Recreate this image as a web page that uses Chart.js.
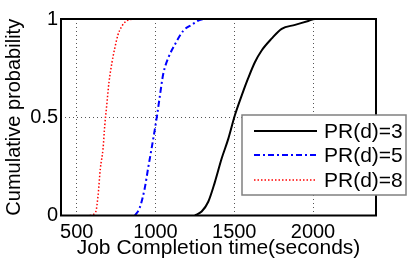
<!DOCTYPE html>
<html>
<head>
<meta charset="utf-8">
<script src="https://cdn.jsdelivr.net/npm/chart.js@4/dist/chart.umd.min.js"></script>
<style>
  html, body { margin: 0; padding: 0; background: #fff; }
  #wrap { width: 415px; height: 263px; }
</style>
</head>
<body>
<div id="wrap"><canvas id="cdfCanvas" width="415" height="263"></canvas></div>
<script>
// series values (job completion time in seconds, cumulative probability)
const pr3Time = [1250, 1293, 1335, 1377, 1420, 1462, 1504, 1547, 1589, 1631, 1674, 1737, 1801, 1886, 1970, 2013, 2400];
const pr3Prob = [0, 0.02, 0.07, 0.17, 0.29, 0.39, 0.51, 0.61, 0.70, 0.78, 0.84, 0.90, 0.95, 0.97, 0.99, 1, 1];

const pr5Time = [869, 900, 932, 953, 975, 996, 1010, 1028, 1049, 1080, 1123, 1176, 1229, 1293, 1364];
const pr5Prob = [0, 0.04, 0.14, 0.24, 0.34, 0.44, 0.51, 0.61, 0.72, 0.80, 0.87, 0.94, 0.97, 0.998, 1];

const pr8Time = [583, 621, 635, 650, 667, 678, 689, 705, 724, 741, 762, 784, 815, 858];
const pr8Prob = [0, 0.02, 0.10, 0.24, 0.34, 0.46, 0.55, 0.68, 0.78, 0.85, 0.92, 0.96, 0.99, 1];

const seriesNames = ['PR(d)=3', 'PR(d)=5', 'PR(d)=8'];
const xTicks = [500, 1000, 1500, 2000];
const yTicks = [0, 0.5, 1];

const FONT = '"Liberation Sans", Arial, sans-serif';

function toPoints(xs, ys) {
  return xs.map((x, i) => ({ x: x, y: ys[i] }));
}

// matlab style legend box, sits partly outside the axes
const legendBox = {
  id: 'legendBox',
  afterDraw(chart) {
    const ctx = chart.ctx;
    ctx.save();
    ctx.fillStyle = '#fff';
    ctx.fillRect(242, 115, 164, 80);
    ctx.strokeStyle = '#808080';
    ctx.lineWidth = 1.5;
    ctx.strokeRect(242, 115, 164, 80);
    const rows = [131, 155, 180];
    chart.data.datasets.forEach((ds, i) => {
      ctx.beginPath();
      ctx.setLineDash(ds.borderDash || []);
      ctx.strokeStyle = ds.borderColor;
      ctx.lineWidth = ds.borderWidth;
      ctx.moveTo(254, rows[i]);
      ctx.lineTo(317, rows[i]);
      ctx.stroke();
      ctx.setLineDash([]);
      ctx.fillStyle = '#000';
      ctx.font = '21px ' + FONT;
      ctx.textBaseline = 'middle';
      ctx.fillText(ds.label, 324, rows[i] + 1);
    });
    ctx.restore();
  }
};

// full box round the axes
const axesBox = {
  id: 'axesBox',
  afterDatasetsDraw(chart) {
    const a = chart.chartArea;
    const ctx = chart.ctx;
    ctx.save();
    ctx.strokeStyle = '#000';
    ctx.lineWidth = 2;
    ctx.strokeRect(a.left, a.top, a.right - a.left, a.bottom - a.top);
    ctx.restore();
  }
};

const ctx = document.getElementById('cdfCanvas').getContext('2d');

new Chart(ctx, {
  type: 'line',
  data: {
    datasets: [
      {
        label: seriesNames[0],
        data: toPoints(pr3Time, pr3Prob),
        borderColor: '#000',
        borderWidth: 2,
        pointRadius: 0,
        cubicInterpolationMode: 'monotone'
      },
      {
        label: seriesNames[1],
        data: toPoints(pr5Time, pr5Prob),
        borderColor: '#0000ff',
        borderWidth: 2,
        borderDash: [6, 3, 2, 3],
        pointRadius: 0,
        cubicInterpolationMode: 'monotone'
      },
      {
        label: seriesNames[2],
        data: toPoints(pr8Time, pr8Prob),
        borderColor: '#ff0000',
        borderWidth: 1.5,
        borderDash: [1.5, 2],
        pointRadius: 0,
        cubicInterpolationMode: 'monotone'
      }
    ]
  },
  options: {
    responsive: false,
    animation: false,
    layout: { padding: { top: 19, right: 39, left: 0, bottom: 0 } },
    plugins: {
      legend: { display: false },
      tooltip: { enabled: false }
    },
    scales: {
      x: {
        type: 'linear',
        min: 400,
        max: 2400,
        afterBuildTicks: scale => { scale.ticks = xTicks.map(v => ({ value: v })); },
        afterFit: scale => { scale.height = 47.5; },
        grid: {
          color: '#555',
          lineWidth: 1,
          drawTicks: false
        },
        border: { display: false, dash: [1, 3] },
        ticks: {
          color: '#000',
          padding: 5,
          maxRotation: 0,
          font: { family: FONT, size: 20 },
          callback: v => String(v)
        },
        title: {
          display: true,
          text: 'Job Completion time(seconds)',
          color: '#000',
          padding: { top: 0, bottom: 2 },
          font: { family: FONT, size: 21 }
        }
      },
      y: {
        min: 0,
        max: 1,
        afterBuildTicks: scale => { scale.ticks = yTicks.map(v => ({ value: v })); },
        afterFit: scale => { scale.width = 61; },
        grid: {
          color: '#555',
          lineWidth: 1,
          drawTicks: false
        },
        border: { display: false, dash: [1, 3] },
        ticks: {
          color: '#000',
          padding: 3,
          font: { family: FONT, size: 20 },
          callback: v => String(v)
        },
        title: {
          display: true,
          text: 'Cumulative probability',
          color: '#000',
          padding: { top: 2, bottom: 0 },
          font: { family: FONT, size: 20 }
        }
      }
    }
  },
  plugins: [axesBox, legendBox]
});
</script>
</body>
</html>
